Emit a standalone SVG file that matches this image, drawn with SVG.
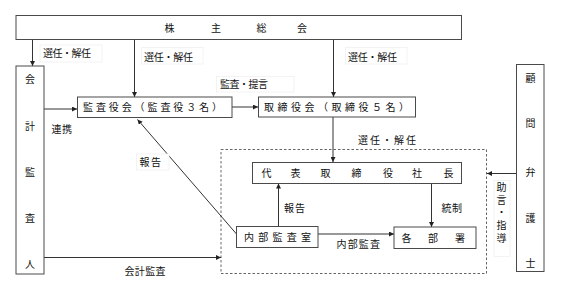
<svg xmlns="http://www.w3.org/2000/svg" width="567" height="290" viewBox="0 0 567 290">
<defs>
<marker id="ah" viewBox="0 0 10 10" refX="10" refY="5" markerWidth="5" markerHeight="5" orient="auto" markerUnits="userSpaceOnUse">
<path d="M0,0 L10,5 L0,10 z" fill="#222"/>
</marker>
<style>
.box{fill:#fff;stroke:#4a4a4a;stroke-width:1}
.t{font-family:"Liberation Sans","Noto Sans CJK JP",sans-serif;font-size:10px;fill:#111}
.m{text-anchor:middle}
.lbl{fill:#fff;stroke:#f0f0f0;stroke-width:0.8}
.ln{fill:none;stroke:#333;stroke-width:1}
.arr{fill:none;stroke:#333;stroke-width:1;marker-end:url(#ah)}
.dash{fill:none;stroke:#666;stroke-width:1;stroke-dasharray:2.5,2}
</style>
</defs>
<rect width="567" height="290" fill="#fff"/>

<g id="connectors">
<rect class="dash" x="221" y="149.5" width="265.5" height="124"/>
<line class="arr" x1="32.5" y1="39.5" x2="32.5" y2="66"/>
<line class="arr" x1="134.5" y1="39.5" x2="134.5" y2="97"/>
<line class="arr" x1="333.5" y1="39.5" x2="333.5" y2="97"/>
<line class="arr" x1="44" y1="109" x2="77" y2="109"/>
<line class="arr" x1="232" y1="107" x2="258" y2="107"/>
<line class="arr" x1="333" y1="117" x2="333" y2="162"/>
<line class="arr" x1="236.5" y1="234" x2="137.5" y2="119.5"/>
<line class="arr" x1="278.5" y1="226.5" x2="278.5" y2="183.5"/>
<line class="arr" x1="318" y1="234" x2="394" y2="234"/>
<line class="arr" x1="431.5" y1="183.5" x2="431.5" y2="227"/>
<line class="arr" x1="44" y1="257.5" x2="221" y2="257.5"/>
<line class="arr" x1="516.5" y1="173.5" x2="487" y2="173.5"/>
</g>

<g id="labels">
<rect class="lbl" x="40" y="45" width="62" height="17"/>
<text class="t" x="43" y="57" textLength="48" lengthAdjust="spacing">選任・解任</text>
<rect class="lbl" x="141.5" y="47.5" width="61.5" height="16.5"/>
<text class="t" x="144" y="61" textLength="49" lengthAdjust="spacing">選任・解任</text>
<rect class="lbl" x="345.5" y="47.5" width="61.5" height="16.5"/>
<text class="t" x="348" y="61" textLength="49" lengthAdjust="spacing">選任・解任</text>
<rect class="lbl" x="216.5" y="76.5" width="77.5" height="15.5"/>
<text class="t" x="220" y="87.5" textLength="48" lengthAdjust="spacing">監査・提言</text>
<text class="t" x="51.5" y="133" textLength="20.5" lengthAdjust="spacing">連携</text>
<rect class="lbl" x="136.5" y="154" width="32.5" height="16"/>
<text class="t" x="139.5" y="165.5" textLength="21.5" lengthAdjust="spacing">報告</text>
<text class="t" x="358" y="144" textLength="58" lengthAdjust="spacing">選任・解任</text>
<text class="t" x="284" y="212" textLength="21" lengthAdjust="spacing">報告</text>
<text class="t" x="441.5" y="212" textLength="20.5" lengthAdjust="spacing">統制</text>
<text class="t" x="336.5" y="248" textLength="43.5" lengthAdjust="spacing">内部監査</text>
<text class="t" x="124.5" y="275" textLength="41" lengthAdjust="spacing">会計監査</text>
<rect class="lbl" x="494" y="180.5" width="16" height="76"/>
<text class="t m" x="501.5" y="190.5">助</text>
<text class="t m" x="501.5" y="203.5">言</text>
<text class="t m" x="501.5" y="216">・</text>
<text class="t m" x="501.5" y="228.5">指</text>
<text class="t m" x="501.5" y="241.5">導</text>
</g>

<g id="shareholders">
<rect class="box" x="16" y="15.5" width="445.5" height="24"/>
<text class="t m" x="169.5" y="31.5">株</text>
<text class="t m" x="216" y="31.5">主</text>
<text class="t m" x="261.5" y="31.5">総</text>
<text class="t m" x="302" y="31.5">会</text>
</g>

<g id="auditor">
<rect class="box" x="16" y="66" width="28" height="208"/>
<text class="t m" x="30" y="83">会</text>
<text class="t m" x="30" y="130">計</text>
<text class="t m" x="30" y="176">監</text>
<text class="t m" x="30" y="222">査</text>
<text class="t m" x="30" y="268">人</text>
</g>

<g id="kansayakukai">
<rect class="box" x="77.5" y="97" width="154.5" height="20.5"/>
<text class="t" x="83" y="111" textLength="139" lengthAdjust="spacing">監査役会（監査役３名）</text>
</g>

<g id="torishimariyakukai">
<rect class="box" x="258.5" y="97" width="157" height="20"/>
<text class="t" x="264" y="111" textLength="145" lengthAdjust="spacing">取締役会（取締役５名）</text>
</g>

<g id="president">
<rect class="box" x="252.5" y="162.5" width="209" height="21"/>
<text class="t m" x="266.5" y="177">代</text>
<text class="t m" x="295.5" y="177">表</text>
<text class="t m" x="325.5" y="177">取</text>
<text class="t m" x="356.5" y="177">締</text>
<text class="t m" x="388" y="177">役</text>
<text class="t m" x="417" y="177">社</text>
<text class="t m" x="448.5" y="177">長</text>
</g>

<g id="internal-audit">
<rect class="box" x="236.5" y="226.5" width="81.5" height="21"/>
<text class="t" x="244" y="241" textLength="67" lengthAdjust="spacing">内部監査室</text>
</g>

<g id="departments">
<rect class="box" x="394" y="227" width="82" height="21.5"/>
<text class="t m" x="406.5" y="242">各</text>
<text class="t m" x="433" y="242">部</text>
<text class="t m" x="460" y="242">署</text>
</g>

<g id="lawyer">
<rect class="box" x="516.5" y="64.5" width="27.5" height="207"/>
<text class="t m" x="530.5" y="82">顧</text>
<text class="t m" x="530.5" y="127">問</text>
<text class="t m" x="530.5" y="176">弁</text>
<text class="t m" x="530.5" y="222">護</text>
<text class="t m" x="530.5" y="267">士</text>
</g>
</svg>
